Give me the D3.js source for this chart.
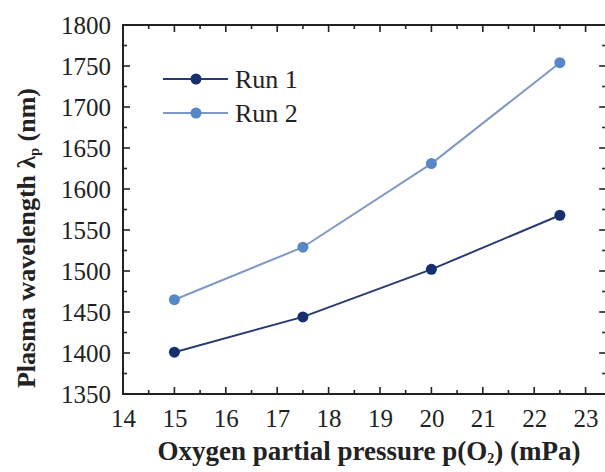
<!DOCTYPE html>
<html>
<head>
<meta charset="utf-8">
<script src="https://cdn.jsdelivr.net/npm/d3@7"></script>
<style>
  body { margin: 0; background: #fff; }
  svg { display: block; }
  text { font-family: "Liberation Serif", "Times New Roman", serif; fill: #222; }
</style>
</head>
<body>
<svg id="chart" width="605" height="472"></svg>
<script>
// data
const pressure = [15, 17.5, 20, 22.5];
const run1 = [1401, 1444, 1502, 1568];
const run2 = [1465, 1529, 1631, 1754];
const xTicks = [14, 15, 16, 17, 18, 19, 20, 21, 22, 23];
const yTicks = [1350, 1400, 1450, 1500, 1550, 1600, 1650, 1700, 1750, 1800];
const seriesNames = ["Run 1", "Run 2"];

const svg = d3.select("#chart");
const margin = { top: 25, left: 123, bottom: 394 };
const xMax = 23.4;

const x = d3.scaleLinear().domain([14, xMax]).range([margin.left, margin.left + (xMax - 14) * 51.4]);
const y = d3.scaleLinear().domain([1350, 1800]).range([margin.bottom, margin.top]);

const series = [
    { name: seriesNames[0], values: run1, line: "#2b3a73", dot: "#14306e" },
    { name: seriesNames[1], values: run2, line: "#7f98c4", dot: "#5588c4" }
];

// frame ticks (inward on all four sides)
const xMinor = d3.range(14, xMax, 0.5).filter(v => !xTicks.includes(v));
const yMinor = d3.range(1375, 1800, 50);
const axisColor = "#222";

function inwardTicks(g, vals, len, side) {
    g.selectAll(null).data(vals).enter().append("line")
        .attr("stroke", axisColor).attr("stroke-width", 1.6)
        .each(function (v) {
            const s = d3.select(this);
            if (side === "bottom") s.attr("x1", x(v)).attr("x2", x(v)).attr("y1", y(1350)).attr("y2", y(1350) - len);
            if (side === "top") s.attr("x1", x(v)).attr("x2", x(v)).attr("y1", y(1800)).attr("y2", y(1800) + len);
            if (side === "left") s.attr("y1", y(v)).attr("y2", y(v)).attr("x1", x(14)).attr("x2", x(14) + len);
            if (side === "right") s.attr("y1", y(v)).attr("y2", y(v)).attr("x1", x(xMax)).attr("x2", x(xMax) - len);
        });
}

const frame = svg.append("g");
["bottom", "top"].forEach(s => { inwardTicks(frame, xTicks, 7, s); inwardTicks(frame, xMinor, 4, s); });
["left", "right"].forEach(s => { inwardTicks(frame, yTicks, 7, s); inwardTicks(frame, yMinor, 4, s); });

frame.append("rect")
    .attr("x", x(14)).attr("y", y(1800))
    .attr("width", x(xMax) - x(14)).attr("height", y(1350) - y(1800))
    .attr("fill", "none").attr("stroke", axisColor).attr("stroke-width", 2);

// tick labels via d3 axes, without lines
const xAxis = svg.append("g")
    .attr("transform", `translate(0,${margin.bottom})`)
    .call(d3.axisBottom(x).tickValues(xTicks).tickSize(0).tickPadding(15).tickFormat(d3.format("d")));
const yAxis = svg.append("g")
    .attr("transform", `translate(${margin.left},0)`)
    .call(d3.axisLeft(y).tickValues(yTicks).tickSize(0).tickPadding(12).tickFormat(d3.format("d")));
[xAxis, yAxis].forEach(a => {
    a.select(".domain").remove();
    a.attr("font-family", null).attr("font-size", null);
    a.selectAll("text").style("font-size", "25px").style("font-family", "'Liberation Serif', serif").attr("fill", "#222");
});
yAxis.selectAll("text").attr("dy", "0.34em");
xAxis.selectAll("text").attr("dy", "0.7em");

// lines and markers
const line = d3.line().x((d, i) => x(pressure[i])).y(d => y(d));
series.forEach(s => {
    svg.append("path").datum(s.values)
        .attr("d", line).attr("fill", "none")
        .attr("stroke", s.line).attr("stroke-width", 2);
    svg.selectAll(null).data(s.values).enter().append("circle")
        .attr("cx", (d, i) => x(pressure[i])).attr("cy", d => y(d))
        .attr("r", 5.5).attr("fill", s.dot);
});

// legend
const legend = svg.append("g");
series.forEach((s, i) => {
    const ly = 79 + i * 34;
    legend.append("line").attr("x1", 163).attr("x2", 228).attr("y1", ly).attr("y2", ly)
        .attr("stroke", s.line).attr("stroke-width", 2);
    legend.append("circle").attr("cx", 196).attr("cy", ly).attr("r", 5.5).attr("fill", s.dot);
    legend.append("text").attr("x", 235).attr("y", ly + 9)
        .style("font-size", "26px").text(s.name);
});

// axis titles
const xt = svg.append("text")
    .attr("x", 369).attr("y", 460)
    .attr("text-anchor", "middle")
    .style("font-size", "27px").style("font-weight", "bold");
xt.append("tspan").text("Oxygen partial pressure p(O");
xt.append("tspan").attr("baseline-shift", "-3").style("font-size", "14px").text("2");
xt.append("tspan").text(") (mPa)");

const yt = svg.append("text")
    .attr("transform", "translate(35,238) rotate(-90)")
    .attr("text-anchor", "middle")
    .style("font-size", "26px").style("font-weight", "bold");
yt.append("tspan").text("Plasma wavelength λ");
yt.append("tspan").attr("baseline-shift", "-4").style("font-size", "14px").text("p");
yt.append("tspan").text(" (nm)");
</script>
</body>
</html>
